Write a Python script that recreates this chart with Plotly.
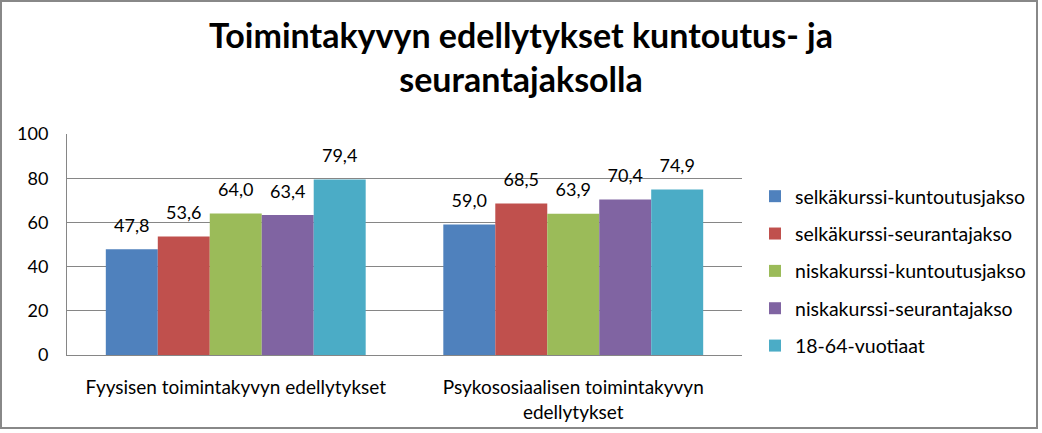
import plotly.graph_objects as go

categories = ["Fyysisen toimintakyvyn edellytykset",
              "Psykososiaalisen toimintakyvyn<br>edellytykset"]
series_names = ["selkäkurssi-kuntoutusjakso", "selkäkurssi-seurantajakso",
                "niskakurssi-kuntoutusjakso", "niskakurssi-seurantajakso",
                "18-64-vuotiaat"]
selka_kuntoutus = [47.8, 59.0]
selka_seuranta = [53.6, 68.5]
niska_kuntoutus = [64.0, 63.9]
niska_seuranta = [63.4, 70.4]
vuotiaat = [79.4, 74.9]
series_values = [selka_kuntoutus, selka_seuranta, niska_kuntoutus,
                 niska_seuranta, vuotiaat]
colors = ["#4F81BD", "#C0504D", "#9BBB59", "#8064A2", "#4BACC6"]
y_ticks = [0, 20, 40, 60, 80, 100]
title_text = "Toimintakyvyn edellytykset kuntoutus- ja<br>seurantajaksolla"

FONT = "Lato, 'Open Sans', sans-serif"

fig = go.Figure()
for i, (name, vals, col) in enumerate(zip(series_names, series_values, colors)):
    fig.add_trace(go.Bar(
        x=categories, y=vals, name=name, marker_color=col,
        marker_line_width=0, legendgroup=f"g{i}",
    ))
# value labels, grouped like the bars
for i, (name, vals) in enumerate(zip(series_names, series_values)):
    fig.add_trace(go.Scatter(
        x=categories, y=vals, mode="markers+text", showlegend=False,
        legendgroup=f"g{i}", hoverinfo="skip",
        marker=dict(size=19, opacity=0),
        text=[f"{v:.1f}".replace(".", ",") for v in vals],
        textposition="top center", cliponaxis=False,
        textfont=dict(family=FONT, size=18, color="#000000"),
    ))

W, H = 1042, 433
L, R, T, B = 67, 300, 134, 78
pw, ph = W - L - R, H - T - B

def px_x(p):
    return (p - L) / pw

def px_y(p):
    return (H - B - p) / ph

fig.update_layout(
    width=W, height=H,
    margin=dict(l=L, r=R, t=T, b=B, autoexpand=False),
    paper_bgcolor="white", plot_bgcolor="white",
    separators=", ",
    barmode="group", bargap=0.23, bargroupgap=0,
    scattermode="group", scattergap=0.23,
    font=dict(family=FONT, size=18, color="#000000"),
    title=dict(text=title_text, xref="container", x=521 / W, xanchor="center",
               yref="container", y=1 - 48 / H, yanchor="middle",
               font=dict(family=FONT, size=34, color="#000000", weight="bold")),
    showlegend=True,
    legend=dict(x=px_x(755), xanchor="left", y=px_y(177), yanchor="top",
                font=dict(family=FONT, size=19.5, color="#000000"),
                tracegroupgap=9, itemwidth=30,
                bgcolor="rgba(0,0,0,0)"),
    xaxis=dict(showline=True, linecolor="#868686", linewidth=1,
               ticks="", tickfont=dict(family=FONT, size=19),
               ticklabelstandoff=15, showgrid=False),
    yaxis=dict(range=[0, 100], tickvals=y_ticks, showline=True,
               linecolor="#868686", linewidth=1, showgrid=True,
               gridcolor="#868686", gridwidth=1, ticks="",
               ticklabelstandoff=14, tickfont=dict(family=FONT, size=18),
               zeroline=False),
    shapes=[dict(type="rect", xref="paper", yref="paper",
                 x0=px_x(1), x1=px_x(1037), y0=px_y(428), y1=px_y(1),
                 line=dict(color="#888888", width=2), layer="below")],
)
fig.write_html("out.html")
